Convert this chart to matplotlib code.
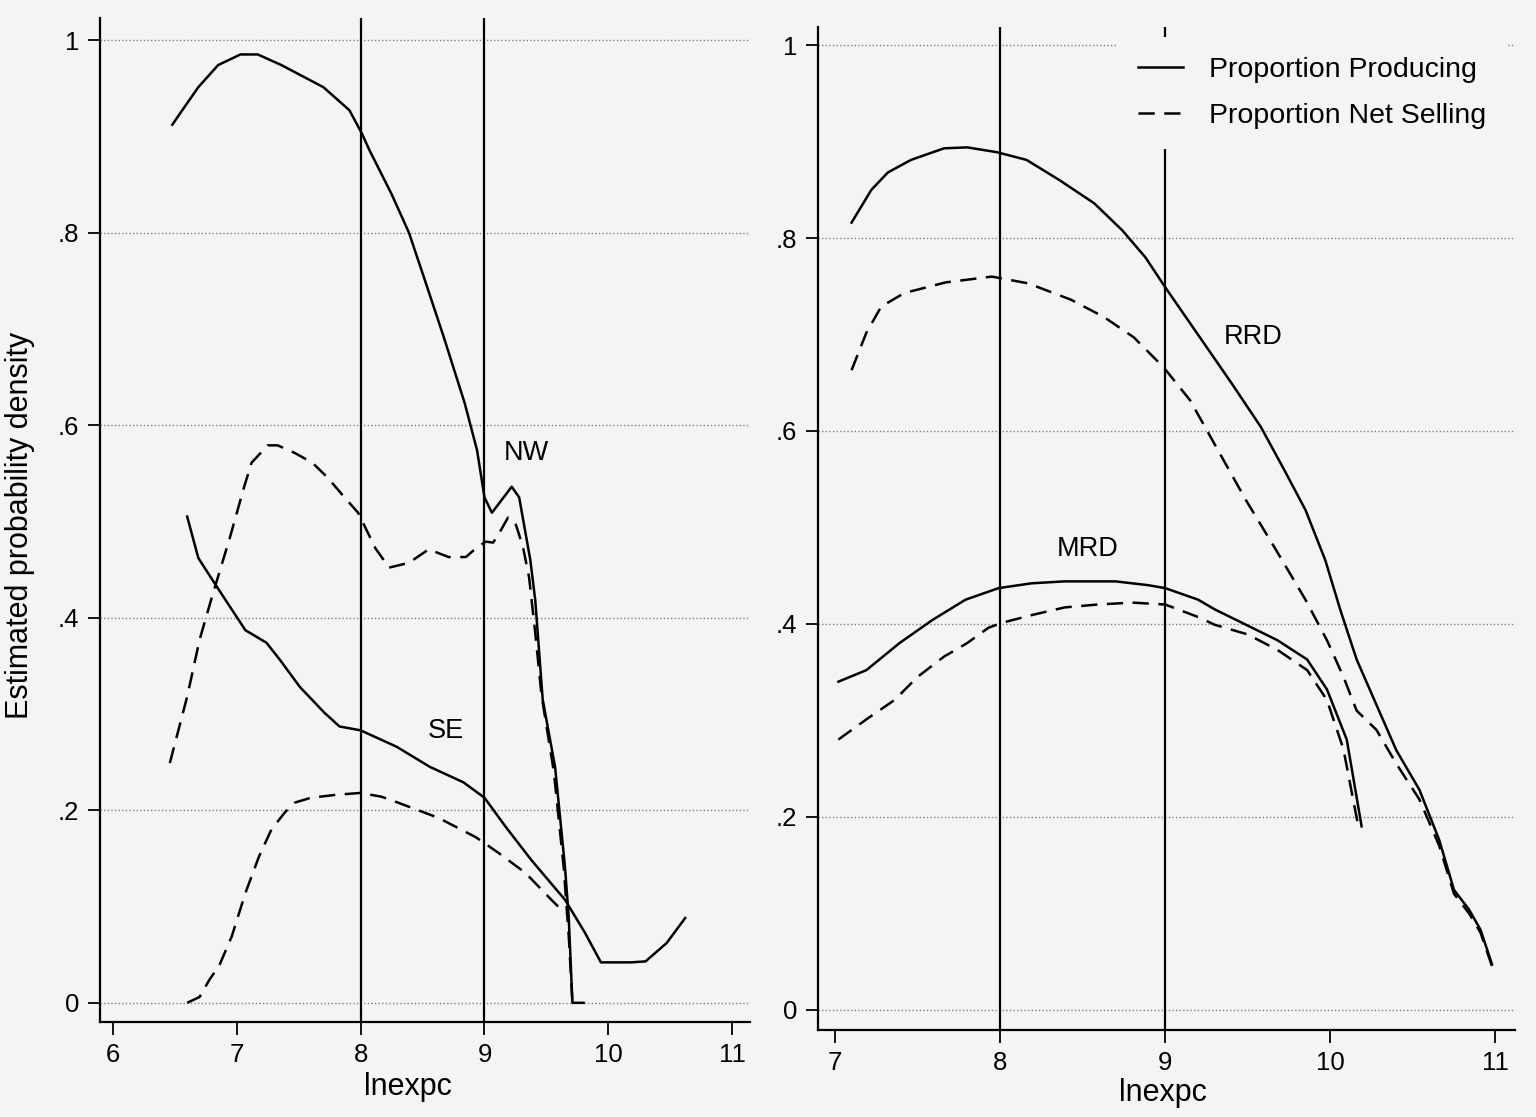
import matplotlib.pyplot as plt
from matplotlib.lines import Line2D

plt.rcParams['font.family'] = ['Liberation Sans', 'DejaVu Sans']

# ---- left panel: NW and SE ----
nw_prod_x = [6.48, 6.56, 6.69, 6.85, 7.03, 7.17, 7.36, 7.70, 7.91, 8.01, 8.07, 8.25,
             8.39, 8.51, 8.67, 8.84, 8.94, 9.00, 9.06, 9.22, 9.28, 9.37, 9.41, 9.47,
             9.57, 9.65, 9.68, 9.71, 9.80]
nw_prod_y = [0.912, 0.927, 0.951, 0.974, 0.985, 0.985, 0.974, 0.951, 0.927, 0.903, 0.886, 0.840,
             0.800, 0.754, 0.692, 0.623, 0.574, 0.525, 0.509, 0.536, 0.525, 0.460, 0.418, 0.315,
             0.245, 0.141, 0.089, 0.0, 0.0]

nw_sell_x = [6.46, 6.60, 6.70, 6.81, 6.94, 7.06, 7.12, 7.25, 7.33, 7.47, 7.61, 7.73, 7.87,
             7.98, 8.12, 8.23, 8.39, 8.55, 8.71, 8.85, 8.93, 9.01, 9.07, 9.12, 9.19, 9.25,
             9.31, 9.36, 9.41, 9.46, 9.56, 9.64, 9.68, 9.71]
nw_sell_y = [0.249, 0.318, 0.377, 0.426, 0.481, 0.536, 0.561, 0.579, 0.579, 0.571, 0.561, 0.546, 0.525,
             0.509, 0.472, 0.452, 0.457, 0.471, 0.463, 0.463, 0.472, 0.479, 0.478, 0.488, 0.504, 0.498,
             0.474, 0.442, 0.384, 0.320, 0.240, 0.140, 0.070, 0.0]

se_prod_x = [6.60, 6.69, 6.83, 7.07, 7.24, 7.35, 7.51, 7.71, 7.83, 8.00, 8.29, 8.56,
             8.83, 9.00, 9.17, 9.38, 9.65, 9.81, 9.94, 10.18, 10.30, 10.47, 10.62]
se_prod_y = [0.505, 0.462, 0.434, 0.387, 0.374, 0.356, 0.328, 0.301, 0.287, 0.283, 0.266, 0.245,
             0.229, 0.213, 0.183, 0.148, 0.107, 0.073, 0.042, 0.042, 0.043, 0.062, 0.088]

se_sell_x = [6.60, 6.70, 6.78, 6.86, 6.96, 7.07, 7.18, 7.28, 7.39, 7.47, 7.60, 7.80,
             8.00, 8.17, 8.30, 8.63, 8.93, 9.11, 9.33, 9.54, 9.65]
se_sell_y = [0.0, 0.006, 0.024, 0.039, 0.069, 0.114, 0.152, 0.180, 0.198, 0.208, 0.213, 0.216,
             0.218, 0.214, 0.208, 0.192, 0.172, 0.156, 0.135, 0.107, 0.093]

# ---- right panel: RRD and MRD ----
rrd_prod_x = [7.10, 7.22, 7.32, 7.46, 7.66, 7.80, 7.98, 8.16, 8.36, 8.57, 8.74, 8.88, 9.00,
              9.19, 9.40, 9.58, 9.72, 9.85, 9.97, 10.06, 10.16, 10.28, 10.40, 10.54, 10.66,
              10.75, 10.84, 10.91, 10.98]
rrd_prod_y = [0.816, 0.850, 0.868, 0.881, 0.893, 0.894, 0.889, 0.881, 0.860, 0.836, 0.808, 0.780, 0.749,
              0.702, 0.650, 0.604, 0.560, 0.518, 0.466, 0.415, 0.363, 0.316, 0.269, 0.228, 0.176,
              0.124, 0.104, 0.083, 0.047]

rrd_sell_x = [7.10, 7.19, 7.28, 7.42, 7.67, 7.95, 8.17, 8.43, 8.63, 8.81, 8.99, 9.15, 9.31,
              9.49, 9.67, 9.85, 9.98, 10.08, 10.16, 10.28, 10.40, 10.54, 10.66, 10.75, 10.84,
              10.91, 10.98]
rrd_sell_y = [0.663, 0.702, 0.729, 0.743, 0.754, 0.760, 0.753, 0.736, 0.718, 0.697, 0.666, 0.632, 0.583,
              0.528, 0.477, 0.425, 0.383, 0.345, 0.310, 0.290, 0.255, 0.218, 0.170, 0.120, 0.100,
              0.080, 0.045]

mrd_prod_x = [7.02, 7.19, 7.39, 7.59, 7.79, 7.99, 8.19, 8.39, 8.70, 8.90, 9.00, 9.20, 9.30,
              9.49, 9.68, 9.86, 9.98, 10.10, 10.19]
mrd_prod_y = [0.340, 0.352, 0.380, 0.404, 0.425, 0.437, 0.442, 0.444, 0.444, 0.440, 0.437, 0.425, 0.415,
              0.399, 0.383, 0.363, 0.332, 0.280, 0.190]

mrd_sell_x = [7.02, 7.19, 7.36, 7.50, 7.66, 7.80, 7.93, 8.01, 8.19, 8.39, 8.59, 8.80, 9.00,
              9.20, 9.30, 9.50, 9.68, 9.86, 9.98, 10.08, 10.17]
mrd_sell_y = [0.280, 0.301, 0.321, 0.345, 0.366, 0.380, 0.396, 0.401, 0.409, 0.417, 0.420, 0.422, 0.420,
              0.407, 0.399, 0.389, 0.373, 0.352, 0.321, 0.270, 0.190]

y_ticks = [0, 0.2, 0.4, 0.6, 0.8, 1.0]
y_ticklabels = ['0', '.2', '.4', '.6', '.8', '1']
left_xticks = [6, 7, 8, 9, 10, 11]
right_xticks = [7, 8, 9, 10, 11]
ref_lines = [8, 9]

BG = '#f4f4f4'
DASH = (0, (6.5, 3.8))
LW = 1.8


def style_axes(ax, xticks, xlim, ylim):
    ax.set_facecolor('none')
    ax.set_xlim(*xlim)
    ax.set_ylim(*ylim)
    for s in ['top', 'right']:
        ax.spines[s].set_visible(False)
    for s in ['left', 'bottom']:
        ax.spines[s].set_linewidth(1.6)
    ax.set_xticks(xticks)
    ax.set_xticklabels([str(t) for t in xticks])
    ax.set_yticks(y_ticks)
    ax.set_yticklabels(y_ticklabels)
    ax.tick_params(direction='out', length=9, width=1.3, labelsize=18.5, pad=6)
    ax.yaxis.grid(True, linestyle=(0, (1, 1.6)), color='0.5', linewidth=1.0)
    ax.set_axisbelow(True)
    for v in ref_lines:
        ax.axvline(v, color='black', linewidth=1.6, zorder=2)
    ax.set_xlabel('lnexpc', fontsize=22)


fig = plt.figure(figsize=(15.36, 11.17), dpi=100, facecolor=BG)

ax1 = fig.add_axes([0.065, 0.085, 0.423, 0.899])
style_axes(ax1, left_xticks, (5.895, 11.14), (-0.02, 1.023))
ax1.plot(nw_prod_x, nw_prod_y, color='black', linewidth=LW, zorder=3)
ax1.plot(nw_sell_x, nw_sell_y, color='black', linewidth=LW, linestyle=DASH, zorder=3)
ax1.plot(se_prod_x, se_prod_y, color='black', linewidth=LW, zorder=3)
ax1.plot(se_sell_x, se_sell_y, color='black', linewidth=LW, linestyle=DASH, zorder=3)
ax1.text(9.34, 0.571, 'NW', fontsize=19.5, ha='center', va='center')
ax1.text(8.69, 0.282, 'SE', fontsize=19.5, ha='center', va='center')
ax1.set_ylabel('Estimated probability density', fontsize=22)
ax1.yaxis.set_label_coords(-0.1, 0.495)
ax1.xaxis.set_label_coords(0.474, -0.05)

ax2 = fig.add_axes([0.5326, 0.078, 0.4538, 0.898])
style_axes(ax2, right_xticks, (6.897, 11.12), (-0.021, 1.019))
ax2.plot(rrd_prod_x, rrd_prod_y, color='black', linewidth=LW, zorder=3)
ax2.plot(rrd_sell_x, rrd_sell_y, color='black', linewidth=LW, linestyle=DASH, zorder=3)
ax2.plot(mrd_prod_x, mrd_prod_y, color='black', linewidth=LW, zorder=3)
ax2.plot(mrd_sell_x, mrd_sell_y, color='black', linewidth=LW, linestyle=DASH, zorder=3)
ax2.text(9.53, 0.697, 'RRD', fontsize=19.5, ha='center', va='center')
ax2.text(8.53, 0.478, 'MRD', fontsize=19.5, ha='center', va='center')
ax2.xaxis.set_label_coords(0.495, -0.048)

handles = [Line2D([], [], color='black', linewidth=LW),
           Line2D([], [], color='black', linewidth=LW, linestyle=DASH)]
leg = ax2.legend(handles, ['Proportion Producing', 'Proportion Net Selling'],
                 loc='upper left', bbox_to_anchor=(0.43, 0.99), fontsize=20.5,
                 frameon=True, facecolor=BG, edgecolor='none', framealpha=1,
                 handlelength=1.6, handletextpad=0.9, labelspacing=0.72,
                 borderpad=0.7, borderaxespad=0)
leg.set_zorder(5)

fig.savefig('out.png', dpi=100, facecolor=BG)
